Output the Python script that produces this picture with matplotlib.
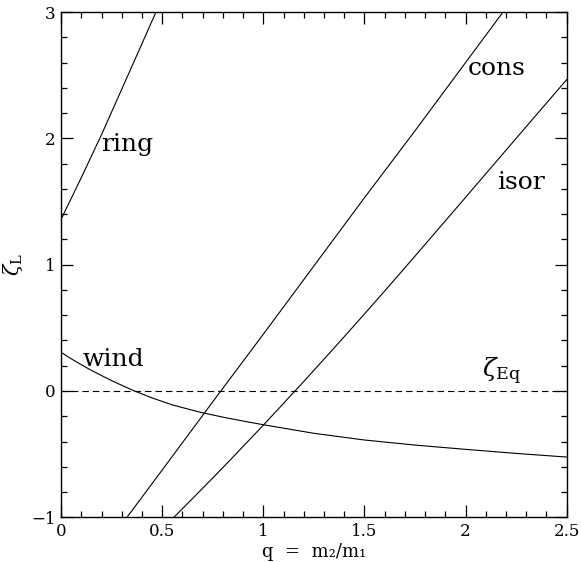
import matplotlib
matplotlib.use("Agg")
import matplotlib.pyplot as plt
from matplotlib.ticker import MultipleLocator

# ---- data ----
ring_q = [0.0, 0.05, 0.1, 0.2, 0.3, 0.4, 0.48]
ring_z = [1.36, 1.525, 1.69, 2.03, 2.39, 2.75, 3.04]

cons_q = [0.30, 0.50, 0.75, 1.00, 1.25, 1.50, 1.75, 2.00, 2.25]
cons_z = [-1.055, -0.625, -0.085, 0.45, 0.99, 1.53, 2.06, 2.60, 3.14]

isor_q = [0.55, 0.65, 0.75, 0.85, 1.0, 1.1, 1.2, 1.3, 1.4, 1.5, 1.6, 1.75, 2.0, 2.25, 2.5]
isor_z = [-1.012, -0.851, -0.688, -0.523, -0.27, -0.098, 0.076, 0.252, 0.43, 0.61,
          0.792, 1.068, 1.533, 2.0, 2.465]

wind_q = [0.0, 0.05, 0.1, 0.15, 0.2, 0.25, 0.3, 0.357, 0.45, 0.55, 0.687, 0.8, 0.9,
          1.0, 1.25, 1.5, 1.75, 2.0, 2.25, 2.5]
wind_z = [0.306, 0.255, 0.208, 0.163, 0.122, 0.082, 0.045, 0.004, -0.055, -0.11,
          -0.168, -0.207, -0.238, -0.267, -0.335, -0.388, -0.428, -0.462, -0.494, -0.523]

zeta_eq = 0.0

labels = ["ring", "cons", "isor", "wind"]
label_pos = [(0.20, 1.90), (2.009, 2.50), (2.157, 1.60), (0.107, 0.198)]

plt.rcParams["font.family"] = ["DejaVu Serif"]
plt.rcParams["mathtext.fontset"] = "dejavuserif"

fig = plt.figure(figsize=(5.81, 5.62), dpi=100)
ax = fig.add_axes([0.1052, 0.0795, 0.8702, 0.8991])

lw = 0.8
for q, z in [(ring_q, ring_z), (cons_q, cons_z), (isor_q, isor_z), (wind_q, wind_z)]:
    ax.plot(q, z, color="black", lw=lw)
ax.axhline(zeta_eq, color="black", lw=lw, dashes=(5.8, 3.6))

for lab, (x, y) in zip(labels, label_pos):
    ax.text(x, y, lab, fontsize=18, va="baseline", ha="left")
ax.text(2.08, 0.03, r"$\zeta_{\rm Eq}$", fontsize=18, va="bottom", ha="left")

ax.set_xlim(0, 2.5)
ax.set_ylim(-1, 3)
ax.xaxis.set_minor_locator(MultipleLocator(0.1))
ax.yaxis.set_minor_locator(MultipleLocator(0.2))
ax.set_xticks([0, 0.5, 1, 1.5, 2, 2.5])
ax.set_xticklabels(["0", "0.5", "1", "1.5", "2", "2.5"])
ax.set_yticks([-1, 0, 1, 2, 3])
ax.set_yticklabels(["\u22121", "0", "1", "2", "3"])
ax.tick_params(which="both", direction="in", top=True, right=True, labelsize=12, width=0.9)
ax.tick_params(which="major", length=8.5, pad=4)
ax.tick_params(which="minor", length=4.3)
for s in ax.spines.values():
    s.set_linewidth(1.0)

ax.set_xlabel("q  =  m\u2082/m\u2081", fontsize=13, labelpad=2)
ax.set_ylabel(r"$\zeta_{\rm L}$", fontsize=15)
ax.yaxis.set_label_coords(-0.071, 0.5)

fig.savefig("out.png", dpi=100)
